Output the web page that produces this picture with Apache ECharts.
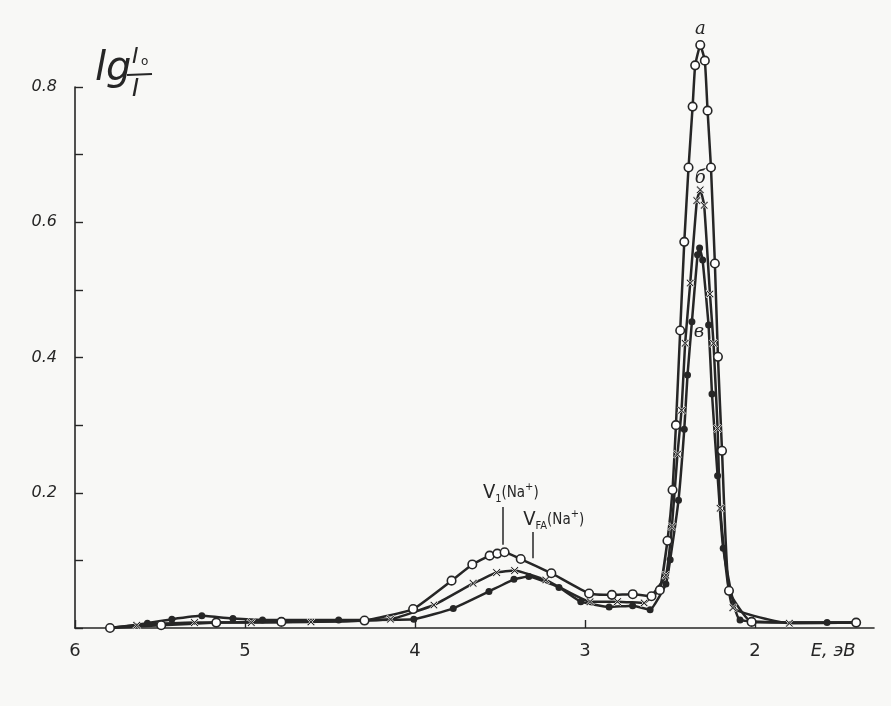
<!DOCTYPE html>
<html><head><meta charset="utf-8">
<script src="https://cdn.jsdelivr.net/npm/echarts@6/dist/echarts.min.js"></script>
<style>html,body{margin:0;padding:0;background:#f8f8f6}#c{width:891px;height:706px}</style>
</head><body><div id="c"></div>
<script>
// Curve "a" (open circles)
const energyA = [5.794,5.493,5.169,4.786,4.297,4.011,3.785,3.663,3.561,3.516,3.473,3.378,3.198,2.976,2.842,2.719,2.609,2.560,2.515,2.485,2.465,2.440,2.416,2.391,2.367,2.352,2.322,2.295,2.279,2.259,2.236,2.218,2.194,2.153,2.020,1.405];
const valuesA = [0.000,0.004,0.008,0.009,0.011,0.028,0.070,0.094,0.107,0.110,0.112,0.102,0.081,0.051,0.049,0.050,0.047,0.056,0.129,0.204,0.300,0.440,0.571,0.681,0.771,0.832,0.862,0.839,0.765,0.681,0.539,0.401,0.262,0.055,0.009,0.008];
// Curve "б" (crosses)
const energyB = [5.637,5.297,4.963,4.612,4.144,3.889,3.658,3.520,3.414,3.231,2.970,2.809,2.652,2.524,2.489,2.456,2.432,2.411,2.381,2.342,2.322,2.299,2.265,2.244,2.220,2.205,2.130,1.798];
const valuesB = [0.004,0.008,0.008,0.009,0.013,0.034,0.066,0.082,0.085,0.071,0.039,0.039,0.037,0.078,0.150,0.257,0.322,0.421,0.510,0.632,0.648,0.625,0.494,0.421,0.295,0.177,0.030,0.007];
// Curve "в" (filled dots)
const energyC = [5.574,5.430,5.254,5.071,4.897,4.449,4.007,3.775,3.565,3.418,3.330,3.153,3.025,2.858,2.720,2.617,2.524,2.499,2.450,2.416,2.397,2.371,2.338,2.326,2.308,2.273,2.253,2.220,2.187,2.088,1.576];
const valuesC = [0.007,0.013,0.018,0.014,0.012,0.012,0.013,0.029,0.054,0.072,0.076,0.060,0.039,0.031,0.033,0.027,0.065,0.101,0.189,0.294,0.374,0.453,0.552,0.562,0.544,0.448,0.346,0.225,0.118,0.012,0.008];
// shared unmarked ends of curves б and в
const lineStart = [5.794, 0.000];
const lineEnd = [1.405, 0.008];
// x tick values and y tick labels
const xTicks = [2,3,4,5,6];
const xUnitPos = 1.54;
const yLabels = [0.2,0.4,0.6,0.8];
// annotation marker positions [E, lg]
const v1Line = [[3.483,0.123],[3.483,0.179]];
const vfaLine = [[3.310,0.103],[3.310,0.142]];
const curveLabelA = [2.322,0.885];
const curveLabelB = [2.322,0.665];
const curveLabelC = [2.330,0.437];

const INK = '#262626';
const crossPath = 'path://M0,1.4L1.4,0L5,3.6L8.6,0L10,1.4L6.4,5L10,8.6L8.6,10L5,6.4L1.4,10L0,8.6L3.6,5Z';

function pts(E, V){ return E.map((e,i)=>[e,V[i]]); }
function withEnds(E,V){
  return [{value:lineStart, symbol:'none'}].concat(pts(E,V)).concat([{value:lineEnd, symbol:'none'}]);
}

const chart = echarts.init(document.getElementById('c'));
const lineCommon = {type:'line', clip:false, smooth:0.12, lineStyle:{color:INK, width:2.5}, animation:false, z:3};

chart.setOption({
  backgroundColor:'#f8f8f6',
  animation:false,
  grid:{left:75, right:17, top:87, bottom:78},
  xAxis:{type:'value', inverse:true, min:1.3, max:6,
    axisLine:{show:true, lineStyle:{color:INK, width:1.6}},
    axisTick:{show:true, inside:true, length:8, customValues:xTicks, lineStyle:{color:INK, width:1.4}},
    axisLabel:{customValues:xTicks.concat([xUnitPos]), margin:14, color:INK, fontSize:18, fontFamily:'DejaVu Sans',
      formatter:v=> Math.abs(v-xUnitPos)<1e-6 ? '{it|E, эВ}' : String(v),
      rich:{it:{fontSize:18, fontStyle:'italic', fontFamily:'DejaVu Sans', color:INK}}},
    splitLine:{show:false}},
  yAxis:{type:'value', min:0, max:0.8, interval:0.1,
    axisLine:{show:true, lineStyle:{color:INK, width:1.6}},
    axisTick:{show:true, inside:true, length:8, lineStyle:{color:INK, width:1.4}},
    axisLabel:{margin:18, color:INK, fontSize:16, fontStyle:'italic', fontFamily:'DejaVu Sans',
      formatter:v=>{ const r=Math.round(v*10)/10; return yLabels.some(y=>Math.abs(y-r)<1e-6)? r.toFixed(1):''; }},
    splitLine:{show:false}},
  series:[
    Object.assign({}, lineCommon, {name:'в', data:withEnds(energyC,valuesC), symbol:'circle', symbolSize:7,
      itemStyle:{color:INK}}),
    Object.assign({}, lineCommon, {name:'б', data:withEnds(energyB,valuesB), symbol:crossPath, symbolSize:8,
      itemStyle:{color:INK, borderColor:'#f8f8f6', borderWidth:0.8}}),
    Object.assign({}, lineCommon, {name:'a', data:pts(energyA,valuesA), symbol:'circle', symbolSize:8.5,
      itemStyle:{color:'#ffffff', borderColor:INK, borderWidth:1.6},
      markLine:{silent:true, symbol:'none', animation:false, label:{show:false},
        lineStyle:{color:INK, width:1.5, type:'solid'},
        data:[[{coord:v1Line[0]},{coord:v1Line[1]}],[{coord:vfaLine[0]},{coord:vfaLine[1]}]]}})
  ]
});

function px(p){ return chart.convertToPixel({gridIndex:0}, p); }
const pA = px(curveLabelA), pB = px(curveLabelB), pC = px(curveLabelC);
const pV1 = px(v1Line[1]), pVF = px(vfaLine[1]);
const F = 'DejaVu Sans Condensed, DejaVu Sans';
const rich = {
  m:{fontSize:20, fontFamily:F, color:INK, lineHeight:28, verticalAlign:'middle'},
  n:{fontSize:15, fontFamily:F, color:INK, lineHeight:28, verticalAlign:'middle'},
  sub:{fontSize:11, fontFamily:F, color:INK, lineHeight:28, verticalAlign:'bottom', padding:[0,0,2,0]},
  sup:{fontSize:11, fontFamily:F, color:INK, lineHeight:28, verticalAlign:'top', padding:[3,0,0,0]}
};
chart.setOption({graphic:[
  {type:'text', x:pA[0], y:pA[1], style:{text:'a', fontSize:18, fontStyle:'italic', fontFamily:'DejaVu Serif', fill:INK, align:'center', verticalAlign:'middle'}},
  {type:'text', x:pB[0], y:pB[1], style:{text:'б', fontSize:18, fontStyle:'italic', fontFamily:'DejaVu Serif', fill:INK, align:'center', verticalAlign:'middle'}},
  {type:'text', x:pC[0], y:pC[1], style:{text:'в', fontSize:18, fontStyle:'italic', fontFamily:'DejaVu Serif', fill:INK, align:'center', verticalAlign:'middle'}},
  {type:'text', x:pV1[0]-20, y:pV1[1], style:{text:'{m|V}{sub|1}{n|(Na}{sup|+}{n|)}', rich:rich, fill:INK, align:'left', verticalAlign:'bottom'}},
  {type:'text', x:pVF[0]-9, y:pVF[1]+2, style:{text:'{m|V}{sub|FA}{n|(Na}{sup|+}{n|)}', rich:rich, fill:INK, align:'left', verticalAlign:'bottom'}},
  {type:'text', x:95, y:50, style:{text:'lg', fontSize:40, fontFamily:'DejaVu Sans', fontStyle:'italic', fill:INK}},
  {type:'text', x:132, y:46, style:{text:'I', fontSize:22, fontFamily:'DejaVu Sans', fontStyle:'italic', fill:INK}},
  {type:'text', x:141, y:56, style:{text:'o', fontSize:12, fontFamily:'DejaVu Sans', fill:INK}},
  {type:'line', shape:{x1:127, y1:75, x2:152, y2:74}, style:{stroke:INK, lineWidth:2}},
  {type:'text', x:132, y:78, style:{text:'I', fontSize:24, fontFamily:'DejaVu Sans', fontStyle:'italic', fill:INK}}
]});
</script>
</body></html>
